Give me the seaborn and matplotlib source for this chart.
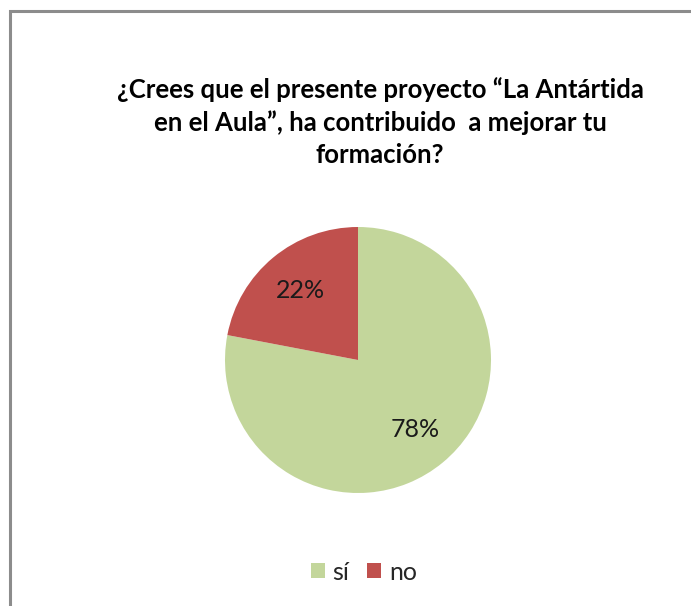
import matplotlib
matplotlib.use("Agg")
import matplotlib.pyplot as plt
import seaborn as sns
from matplotlib.patches import Patch, Rectangle

categories = ["sí", "no"]
values = [78, 22]
colors = ["#C3D69B", "#C0504D"]
title = "¿Crees que el presente proyecto “La Antártida\nen el Aula”, ha contribuido  a mejorar tu\nformación?"

sns.set_theme(style="white")
plt.rcParams['font.family'] = ['Lato', 'DejaVu Sans']

W, H = 691, 606
fig = plt.figure(figsize=(W / 100, H / 100), dpi=100)
fig.patch.set_facecolor("white")

# outer frame (only top and left visible)
fig.add_artist(Rectangle((10 / W, -0.1), 1.2, (H - 11) / H + 0.1, transform=fig.transFigure,
                         fill=False, edgecolor="#8c8c8c", linewidth=2.2))

cx, cy, r = 358, 360, 133
ax = fig.add_axes([(cx - r) / W, (H - cy - r) / H, 2 * r / W, 2 * r / H])
ax.pie(values, colors=colors, startangle=90, counterclock=False,
       autopct=lambda p: f"{p:.0f}%", pctdistance=0.68,
       textprops=dict(fontsize=18, color="#1a1a1a"),
       wedgeprops=dict(linewidth=0))
ax.set_xlim(-1, 1)
ax.set_ylim(-1, 1)
ax.set_axis_off()

fig.text(380 / W, 1 - 122 / H, title, ha="center", va="center", fontsize=18.5,
         fontweight="bold", color="#000000", linespacing=1.42)

handles = [Patch(facecolor=c, edgecolor="none") for c in colors]
fig.legend(handles, categories, loc="center", bbox_to_anchor=(364 / W, 1 - 572 / H),
           ncol=2, frameon=False, fontsize=18, handlelength=0.56, handleheight=0.56,
           handletextpad=0.32, columnspacing=0.72)

fig.savefig("out.png", dpi=100)
